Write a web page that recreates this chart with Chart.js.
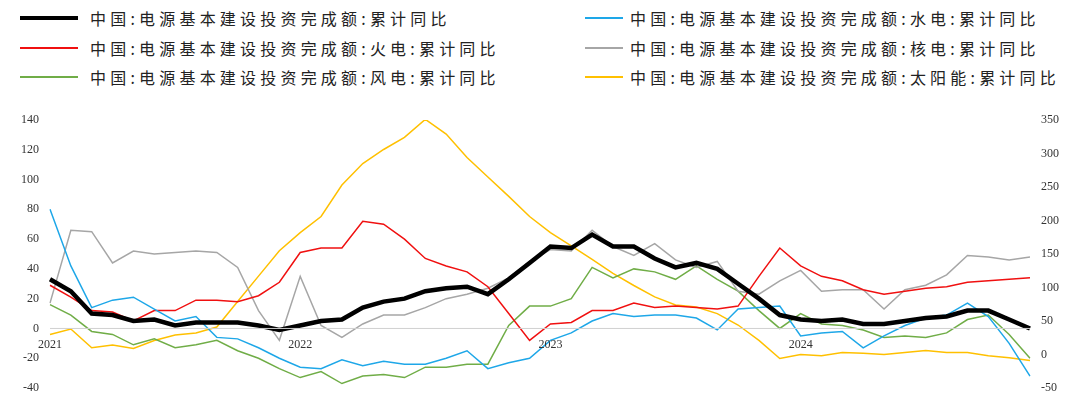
<!DOCTYPE html>
<html><head><meta charset="utf-8">
<script src="https://cdn.jsdelivr.net/npm/chart.js@4/dist/chart.umd.min.js"></script>
<style>
body{margin:0;background:#fff;font-family:"Noto Sans CJK SC",sans-serif;}
#wrap{position:relative;width:1080px;height:405px;}
#legend{position:absolute;left:0;top:0;width:1080px;height:100px;}
.li{position:absolute;font-size:16px;color:#222;white-space:nowrap;letter-spacing:4.2px;line-height:20px}
.ln{position:absolute;height:0}
#c{position:absolute;left:0;top:100px;}
</style></head><body>
<div id="wrap"><div id="legend"></div><canvas id="c" width="1080" height="305"></canvas></div>
<script>
const labels=[];for(let y=2021;y<=2024;y++)for(let m=1;m<=12;m++)labels.push(y+'-'+m);
const total=[33,25,10,9,5,6,2,4,4,4,2,-1,2,5,6,14,18,20,25,27,28,23,33,44,55,54,63,55,55,47,41,44,40,30,20,9,6,5,6,3,3,5,7,8,12,12,6,0];
const hydro=[80,42,14,19,21,13,5,8,-6,-7,-13,-20,-26,-27,-21,-25,-22,-24,-24,-20,-15,-27,-23,-20,-8,-3,5,10,8,9,9,7,-1,13,14,15,-5,-3,-2,-13,-5,2,7,9,17,8,-10,-32];
const thermal=[29,21,12,11,5,12,12,19,19,18,22,31,51,54,54,72,70,60,47,42,38,28,10,-8,3,4,12,12,17,14,15,14,13,15,35,54,42,35,32,26,23,25,27,28,31,32,33,34];
const nuclear=[17,66,65,44,52,50,51,52,51,41,12,-8,35,2,-6,3,9,9,14,20,23,27,34,45,53,52,66,55,49,57,46,41,45,25,23,32,39,25,26,26,13,26,29,36,49,48,46,48];
const wind=[16,9,-2,-4,-11,-7,-13,-11,-8,-15,-20,-27,-33,-29,-37,-32,-31,-33,-26,-26,-24,-24,2,15,15,20,41,34,40,38,33,42,33,25,12,0,10,3,2,-1,-6,-5,-6,-3,6,9,-4,-20];
const solar=[30,38,10,14,9,21,29,32,41,79,117,155,182,206,253,285,306,324,351,329,294,265,236,206,182,162,142,121,103,86,74,71,61,44,21,-6,0,-2,3,2,0,3,6,3,3,-2,-5,-9];
const yearLabels={0:'2021',12:'2022',24:'2023',36:'2024'};
const series=[
 ['中国:电源基本建设投资完成额:累计同比',total,'#000',4.5,'y'],
 ['中国:电源基本建设投资完成额:水电:累计同比',hydro,'#1ea7e8',1.5,'y'],
 ['中国:电源基本建设投资完成额:火电:累计同比',thermal,'#f01010',1.5,'y'],
 ['中国:电源基本建设投资完成额:核电:累计同比',nuclear,'#a6a6a6',1.5,'y'],
 ['中国:电源基本建设投资完成额:风电:累计同比',wind,'#70ad47',1.5,'y'],
 ['中国:电源基本建设投资完成额:太阳能:累计同比',solar,'#ffc000',1.5,'y1']];
const lg=document.getElementById('legend');
series.forEach((s,i)=>{const row=Math.floor(i/2),col=i%2;const cy=18+row*29.5;
 const l=document.createElement('div');l.className='ln';
 l.style.left=(col?585:20)+'px';l.style.width=(col?38:58)+'px';
 l.style.top=(cy-(s[3]>2?2:1))+'px';l.style.borderTop=(s[3]>2?4:2)+'px solid '+s[2];lg.appendChild(l);
 const d=document.createElement('div');d.className='li';
 d.style.left=(col?630:90)+'px';d.style.top=(cy-10)+'px';d.textContent=s[0];lg.appendChild(d);});
const yearPlugin={id:'yp',afterDatasetsDraw(ch){const c=ch.ctx,x=ch.scales.x,y=ch.scales.y;
 const y0=y.getPixelForValue(0);c.save();c.strokeStyle='#d0d0d0';c.lineWidth=1;c.beginPath();c.moveTo(ch.chartArea.left,y0);c.lineTo(ch.chartArea.right,y0);c.stroke();
 c.fillStyle='#333';c.font='12px "Liberation Serif",serif';c.textAlign='center';
 for(const k in yearLabels)c.fillText(yearLabels[k],x.getPixelForValue(+k),y0+20);c.restore();}};
new Chart(document.getElementById('c'),{type:'line',
 data:{labels,datasets:series.map(s=>({label:s[0],data:s[1],borderColor:s[2],borderWidth:s[3],yAxisID:s[4],pointRadius:0,tension:0,order:s[3]>2?0:1}))},
 options:{responsive:false,animation:false,layout:{padding:{left:0,right:0,top:20,bottom:17}},
 plugins:{legend:{display:false},tooltip:{enabled:false}},
 scales:{x:{offset:false,grid:{display:false},border:{display:false},ticks:{display:false},afterFit(s){s.height=0},
   afterSetDimensions(s){s.left=62;s.right=1016;}},
  y:{position:'left',min:-40,max:140,ticks:{stepSize:20,color:'#333',font:{size:12,family:'Liberation Serif'}},grid:{display:false},border:{display:false},afterFit(s){s.width=50}},
  y1:{position:'right',min:-50,max:350,ticks:{stepSize:50,color:'#333',font:{size:12,family:'Liberation Serif'}},grid:{display:false},border:{display:false},afterFit(s){s.width=50}}}},
 plugins:[yearPlugin]});
</script></body></html>
